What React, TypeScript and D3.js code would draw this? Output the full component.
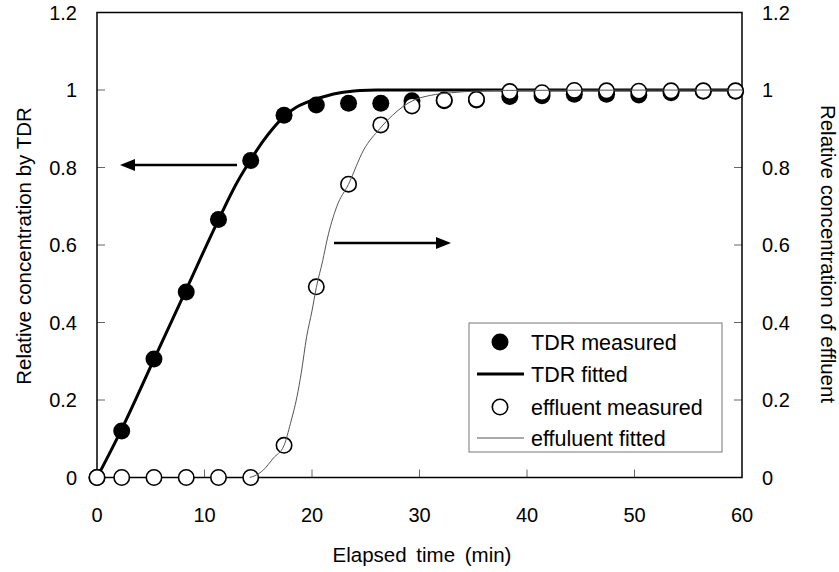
import React from "react";
import * as d3 from "d3";

const W = 839;
const H = 572;

// Measured TDR (filled circles)
const tdrTime = [0, 2.3, 5.3, 8.3, 11.3, 14.3, 17.4, 20.4, 23.4, 26.4, 29.3, 32.3, 35.3, 38.4, 41.4, 44.4, 47.4, 50.4, 53.4, 56.4, 59.4];
const tdrValue = [0, 0.12, 0.306, 0.479, 0.666, 0.818, 0.935, 0.961, 0.966, 0.966, 0.972, 0.972, 0.974, 0.983, 0.985, 0.989, 0.989, 0.987, 0.993, 0.997, 0.997];

// Measured effluent (open circles)
const effTime = [0, 2.3, 5.3, 8.3, 11.3, 14.3, 17.4, 20.4, 23.4, 26.4, 29.3, 32.3, 35.3, 38.4, 41.4, 44.4, 47.4, 50.4, 53.4, 56.4, 59.4];
const effValue = [0, 0, 0, 0, 0, 0, 0.083, 0.492, 0.757, 0.91, 0.959, 0.974, 0.976, 0.996, 0.993, 0.999, 0.998, 0.997, 0.998, 0.998, 0.998];

// TDR fitted curve
const tdrFitTime = [0, 2.3, 5.3, 8.3, 11.3, 13, 14.3, 15.5, 16.5, 17.4, 18.5, 19.5, 20.5, 21.5, 22.5, 23.5, 24.5, 26, 60];
const tdrFitValue = [0, 0.125, 0.305, 0.485, 0.665, 0.76, 0.82, 0.87, 0.905, 0.932, 0.955, 0.968, 0.978, 0.986, 0.992, 0.996, 0.999, 1.0, 1.0];

// Effluent fitted curve
const effFitTime = [14.2, 14.8, 15.5, 16.4, 17.4, 18.0, 18.6, 19.0, 19.5, 20.0, 20.4, 21.0, 21.4, 22.3, 23.4, 24.8, 26.3, 27.5, 28.5, 29.5, 31, 33, 35, 38, 60];
const effFitValue = [0, 0.006, 0.02, 0.05, 0.083, 0.14, 0.208, 0.27, 0.363, 0.43, 0.49, 0.56, 0.613, 0.699, 0.757, 0.845, 0.9, 0.935, 0.958, 0.974, 0.986, 0.993, 0.997, 0.999, 1.0];

const xTicks = [0, 10, 20, 30, 40, 50, 60];
const yTicks = [0, 0.2, 0.4, 0.6, 0.8, 1, 1.2];
const yTickLabels = ["0", "0.2", "0.4", "0.6", "0.8", "1", "1.2"];

const legendItems = ["TDR measured", "TDR fitted", "effluent measured", "effuluent fitted"];

const xTitle = "Elapsed time (min)";
const yLeftTitle = "Relative concentration by TDR";
const yRightTitle = "Relative concentration of effluent";

const FONT = "'Liberation Sans', Arial, sans-serif";

export default function App() {
  const left = 97;
  const right = 742;
  const top = 12.5;
  const bottom = 477.5;

  const x = d3.scaleLinear().domain([0, 60]).range([left, right]);
  const y = d3.scaleLinear().domain([0, 1.2]).range([bottom, top]);

  const line = d3
    .line<[number, number]>()
    .x((d) => x(d[0]))
    .y((d) => y(d[1]))
    .curve(d3.curveMonotoneX);

  const tdrFit = line(tdrFitTime.map((t, i) => [t, tdrFitValue[i]]) as [number, number][]) || "";
  const effFit = line(effFitTime.map((t, i) => [t, effFitValue[i]]) as [number, number][]) || "";

  const tickLen = 8;

  // legend geometry
  const lgX = 469;
  const lgY = 323;
  const lgW = 253;
  const lgH = 129;
  const rowY = [342, 374, 407, 438];

  return (
    <svg
      width={W}
      height={H}
      style={{ position: "absolute", left: 0, top: 0, background: "#fff" }}
      fontFamily={FONT}
    >
      <rect x={0} y={0} width={W} height={H} fill="#fff" />

      {/* ticks */}
      {yTicks.slice(1, -1).map((v) => (
        <g key={"yt" + v}>
          <line x1={left} x2={left + tickLen} y1={y(v)} y2={y(v)} stroke="#666" strokeWidth={1} />
          <line x1={right} x2={right - tickLen} y1={y(v)} y2={y(v)} stroke="#666" strokeWidth={1} />
        </g>
      ))}
      {xTicks.slice(1, -1).map((t) => (
        <line key={"xt" + t} x1={x(t)} x2={x(t)} y1={bottom} y2={bottom - tickLen} stroke="#666" strokeWidth={1} />
      ))}

      {/* frame */}
      <rect x={left} y={top} width={right - left} height={bottom - top} fill="none" stroke="#000" strokeWidth={1.5} />

      {/* tick labels */}
      {yTicks.map((v, i) => (
        <text key={"yl" + v} x={77} y={y(v)} dy="0.36em" textAnchor="end" fontSize={20} fill="#000">
          {yTickLabels[i]}
        </text>
      ))}
      {yTicks.map((v, i) => (
        <text key={"yr" + v} x={762} y={y(v)} dy="0.36em" textAnchor="start" fontSize={20} fill="#000">
          {yTickLabels[i]}
        </text>
      ))}
      {xTicks.map((t) => (
        <text key={"xl" + t} x={x(t)} y={522} textAnchor="middle" fontSize={20} fill="#000">
          {t}
        </text>
      ))}

      {/* axis titles */}
      <text x={422} y={562} textAnchor="middle" fontSize={20.5} fill="#000" wordSpacing={4}>
        {xTitle}
      </text>
      <text
        transform={`translate(31,246) rotate(-90)`}
        textAnchor="middle"
        fontSize={20.5}
        fill="#000"
      >
        {yLeftTitle}
      </text>
      <text
        transform={`translate(821,254) rotate(90)`}
        textAnchor="middle"
        fontSize={20.5}
        fill="#000"
      >
        {yRightTitle}
      </text>

      {/* TDR fitted */}
      <path d={tdrFit} fill="none" stroke="#000" strokeWidth={3} />

      {/* TDR measured */}
      {tdrTime.map((t, i) => (
        <circle key={"tm" + i} cx={x(t)} cy={y(tdrValue[i])} r={8.5} fill="#000" />
      ))}

      {/* effluent measured */}
      {effTime.map((t, i) => (
        <circle key={"em" + i} cx={x(t)} cy={y(effValue[i])} r={7.7} fill="#fff" stroke="#000" strokeWidth={1.6} />
      ))}

      {/* effluent fitted */}
      <path d={effFit} fill="none" stroke="#555" strokeWidth={1} />

      {/* arrows */}
      <line x1={237} x2={130} y1={165} y2={165} stroke="#000" strokeWidth={2.5} />
      <path d="M120,165 L135,159 L135,171 Z" fill="#000" />
      <line x1={334} x2={440} y1={243} y2={243} stroke="#000" strokeWidth={2.5} />
      <path d="M451,243 L436,237 L436,249 Z" fill="#000" />

      {/* legend */}
      <rect x={lgX} y={lgY} width={lgW} height={lgH} fill="#fff" stroke="#777" strokeWidth={1} />
      <circle cx={500} cy={rowY[0]} r={8.5} fill="#000" />
      <line x1={477} x2={524} y1={rowY[1]} y2={rowY[1]} stroke="#000" strokeWidth={3} />
      <circle cx={500} cy={rowY[2]} r={7.7} fill="#fff" stroke="#000" strokeWidth={1.6} />
      <line x1={477} x2={524} y1={rowY[3]} y2={rowY[3]} stroke="#555" strokeWidth={1} />
      {legendItems.map((s, i) => (
        <text key={"lg" + i} x={531} y={rowY[i]} dy="0.36em" fontSize={21.5} fill="#000">
          {s}
        </text>
      ))}
    </svg>
  );
}
